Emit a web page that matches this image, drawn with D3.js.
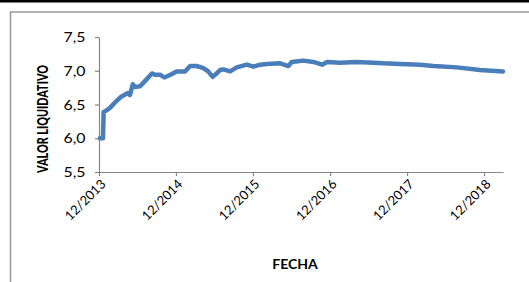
<!DOCTYPE html>
<html>
<head>
<meta charset="utf-8">
<script src="https://cdn.jsdelivr.net/npm/d3@7"></script>
<style>
  html, body { margin: 0; padding: 0; background: #fff; }
  svg { display: block; }
</style>
</head>
<body>
<div id="chart"></div>
<script>
// fechas y valor liquidativo
const fechas = [
  "2013-12-05", "2013-12-20", "2013-12-23", "2014-01-05", "2014-01-22", "2014-02-15", "2014-03-18",
  "2014-04-17", "2014-04-27", "2014-05-10", "2014-05-20", "2014-06-14", "2014-07-08",
  "2014-08-09", "2014-08-25", "2014-09-18", "2014-10-07", "2014-11-05", "2014-12-04",
  "2015-01-13", "2015-02-06", "2015-03-09", "2015-04-10", "2015-05-03", "2015-05-24",
  "2015-06-12", "2015-06-28", "2015-07-14", "2015-08-15", "2015-09-15", "2015-11-02",
  "2015-12-03", "2016-01-04", "2016-02-05", "2016-04-08", "2016-05-17", "2016-06-02",
  "2016-07-27", "2016-09-13", "2016-10-24", "2016-11-17", "2017-01-17", "2017-04-06",
  "2017-06-24", "2017-08-10", "2017-10-29", "2018-02-01", "2018-04-05", "2018-07-25",
  "2018-11-12", "2019-03-01"
];
const valores = [
  6.00, 6.00, 6.39, 6.41, 6.45, 6.53, 6.62,
  6.67, 6.64, 6.80, 6.76, 6.77, 6.85,
  6.96, 6.94, 6.94, 6.90, 6.94, 6.99,
  6.99, 7.07, 7.07, 7.04, 6.99, 6.91,
  6.96, 7.01, 7.02, 6.99, 7.05, 7.09,
  7.06, 7.09, 7.10, 7.11, 7.07, 7.13,
  7.15, 7.13, 7.09, 7.13, 7.12, 7.13,
  7.12, 7.11, 7.10, 7.09, 7.07, 7.05,
  7.01, 6.99
];
const yTicks = [5.5, 6.0, 6.5, 7.0, 7.5];
const xTicks = ["2013-12-01", "2014-12-01", "2015-12-01", "2016-12-01", "2017-12-01", "2018-12-01"];

const parse = d3.timeParse("%Y-%m-%d");
const data = fechas.map((f, i) => ({ x: parse(f), y: valores[i] }));

const width = 529, height = 282;
const margin = { top: 37, right: 26, bottom: 110, left: 99 };
const w = width - margin.left - margin.right;
const h = height - margin.top - margin.bottom;

const es = d3.formatLocale({ decimal: ",", thousands: ".", grouping: [3], currency: ["", "€"] });

const svg = d3.select("#chart")
  .append("svg")
  .attr("width", width)
  .attr("height", height);

// marco del grafico
svg.append("rect")
  .attr("x", 0).attr("y", 0)
  .attr("width", width).attr("height", 2.5)
  .attr("fill", "#000");

svg.append("path")
  .attr("d", `M10.5,${height}V12H${width}`)
  .attr("fill", "none")
  .attr("stroke", "#999")
  .attr("stroke-width", 1.6);

const figure = svg.append("g")
  .attr("transform", "translate(" + margin.left + ", " + margin.top + ")");

const xscale = d3.scaleTime()
  .domain([parse("2013-12-01"), parse("2019-03-01")])
  .range([0, w]);

const yscale = d3.scaleLinear()
  .domain([5.5, 7.5])
  .range([h, 0]);

const xAxis = d3.axisBottom(xscale)
  .tickValues(xTicks.map(parse))
  .tickFormat(d3.timeFormat("%m/%Y"))
  .tickSize(4)
  .tickSizeOuter(0);

const yAxis = d3.axisLeft(yscale)
  .tickValues(yTicks)
  .tickFormat(es.format(".1f"))
  .tickSize(4)
  .tickSizeOuter(0);

const gx = figure.append("g")
  .attr("class", "x axis")
  .attr("transform", `translate(0,${h})`)
  .call(xAxis);

const gy = figure.append("g")
  .attr("class", "y axis")
  .call(yAxis);

[gx, gy].forEach(g => {
  g.select(".domain").attr("stroke", "#868686").attr("stroke-width", 1.2);
  g.selectAll(".tick line").attr("stroke", "#868686").attr("stroke-width", 1.2);
  g.selectAll("text")
    .attr("fill", "#000")
    .style("font-family", "Lato, 'Open Sans', sans-serif")
    .style("font-size", "13px");
});

gy.selectAll(".tick text")
  .attr("x", -11)
  .attr("dy", "0.36em")
  .attr("transform", "scale(1.22,1)");

gx.selectAll(".tick text")
  .attr("text-anchor", "end")
  .attr("dy", 0)
  .attr("y", 0)
  .attr("transform", "translate(7,13) rotate(-45)");

const line = d3.line()
  .x(d => xscale(d.x))
  .y(d => yscale(d.y));

figure.append("path")
  .datum(data)
  .attr("d", line)
  .attr("fill", "none")
  .attr("stroke", "#4a7ebb")
  .attr("stroke-width", 4.5)
  .attr("stroke-linejoin", "round")
  .attr("stroke-linecap", "round")
  .attr("class", "line");

// titulos de los ejes
svg.append("text")
  .attr("transform", "translate(47.5,119) rotate(-90)")
  .attr("text-anchor", "middle")
  .attr("textLength", 108)
  .attr("lengthAdjust", "spacingAndGlyphs")
  .style("font-family", "Lato, 'Open Sans', sans-serif")
  .style("font-weight", "900")
  .style("font-size", "14.5px")
  .text("VALOR LIQUIDATIVO");

svg.append("text")
  .attr("x", 295)
  .attr("y", 269)
  .attr("text-anchor", "middle")
  .style("font-family", "Lato, 'Open Sans', sans-serif")
  .style("font-weight", "bold")
  .style("font-size", "14px")
  .text("FECHA");
</script>
</body>
</html>
